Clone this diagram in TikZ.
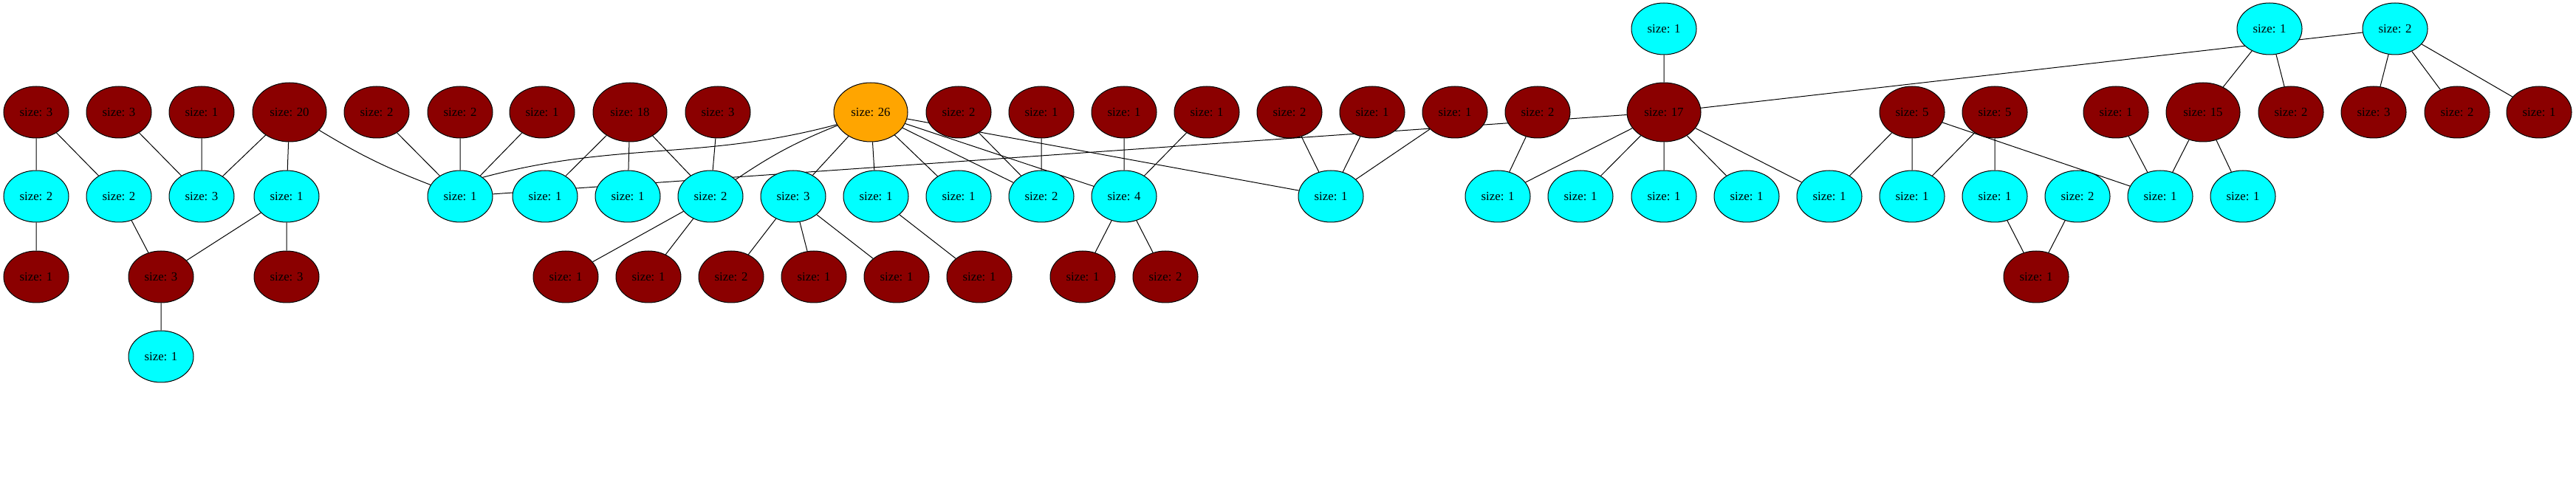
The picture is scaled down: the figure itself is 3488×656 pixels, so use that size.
\documentclass[tikz,border=0pt]{standalone}
\usepackage{fontspec}
\setmainfont{Liberation Serif}
\usepackage{tikz}
\usetikzlibrary{shapes.geometric,backgrounds}
\definecolor{compRed}{HTML}{8B0000}
\definecolor{compCyan}{HTML}{00FFFF}
\definecolor{compOrange}{HTML}{FFA500}

\begin{document}
\begin{tikzpicture}[x=1pt, y=1pt,
  every node/.style={font=\fontsize{16.8}{20}\selectfont},
  comp/.style={ellipse, draw=black, line width=1pt, inner sep=0pt,
             minimum width=88pt, minimum height=70pt},
  redcomp/.style={comp, fill=compRed},
  cyancomp/.style={comp, fill=compCyan},
  bigcomp/.style={minimum width=100pt, minimum height=80pt},
  link/.style={line width=1pt},
]
\useasboundingbox (0,0) rectangle (3488,656);

% Top row
\node[cyancomp] (t1) at (2253, 617) {size: 1};
\node[cyancomp] (t2) at (3073, 617) {size: 1};
\node[cyancomp] (t3) at (3243, 617) {size: 2};

% Second row
\node[redcomp] (r1) at (49, 504) {size: 3};
\node[redcomp] (r2) at (161, 504) {size: 3};
\node[redcomp] (r3) at (273, 504) {size: 1};
\node[redcomp, bigcomp] (r4) at (392, 504) {size: 20};
\node[redcomp] (r5) at (510, 504) {size: 2};
\node[redcomp] (r6) at (623, 504) {size: 2};
\node[redcomp] (r7) at (734, 504) {size: 1};
\node[redcomp, bigcomp] (r8) at (853, 504) {size: 18};
\node[redcomp] (r9) at (972, 504) {size: 3};
\node[comp, bigcomp, fill=compOrange] (r10) at (1179, 504) {size: 26};
\node[redcomp] (r11) at (1298, 504) {size: 2};
\node[redcomp] (r12) at (1410, 504) {size: 1};
\node[redcomp] (r13) at (1522, 504) {size: 1};
\node[redcomp] (r14) at (1634, 504) {size: 1};
\node[redcomp] (r15) at (1746, 504) {size: 2};
\node[redcomp] (r16) at (1858, 504) {size: 1};
\node[redcomp] (r17) at (1970, 504) {size: 1};
\node[redcomp] (r18) at (2082, 504) {size: 2};
\node[redcomp, bigcomp] (r19) at (2253, 504) {size: 17};
\node[redcomp] (r20) at (2589, 504) {size: 5};
\node[redcomp] (r21) at (2701, 504) {size: 5};
\node[redcomp] (r22) at (2865, 504) {size: 1};
\node[redcomp, bigcomp] (r23) at (2983, 504) {size: 15};
\node[redcomp] (r24) at (3102, 504) {size: 2};
\node[redcomp] (r25) at (3214, 504) {size: 3};
\node[redcomp] (r26) at (3327, 504) {size: 2};
\node[redcomp] (r27) at (3438, 504) {size: 1};

% Third row
\node[cyancomp] (c1) at (49, 390) {size: 2};
\node[cyancomp] (c2) at (161, 390) {size: 2};
\node[cyancomp] (c3) at (273, 390) {size: 3};
\node[cyancomp] (c4) at (388, 390) {size: 1};
\node[cyancomp] (c5) at (623, 390) {size: 1};
\node[cyancomp] (c6) at (738, 390) {size: 1};
\node[cyancomp] (c7) at (850, 390) {size: 1};
\node[cyancomp] (c8) at (962, 390) {size: 2};
\node[cyancomp] (c9) at (1074, 390) {size: 3};
\node[cyancomp] (c10) at (1186, 390) {size: 1};
\node[cyancomp] (c11) at (1298, 390) {size: 1};
\node[cyancomp] (c12) at (1410, 390) {size: 2};
\node[cyancomp] (c13) at (1522, 390) {size: 4};
\node[cyancomp] (c14) at (1802, 390) {size: 1};
\node[cyancomp] (c15) at (2028, 390) {size: 1};
\node[cyancomp] (c16) at (2140, 390) {size: 1};
\node[cyancomp] (c17) at (2253, 390) {size: 1};
\node[cyancomp] (c18) at (2365, 390) {size: 1};
\node[cyancomp] (c19) at (2477, 390) {size: 1};
\node[cyancomp] (c20) at (2589, 390) {size: 1};
\node[cyancomp] (c21) at (2701, 390) {size: 1};
\node[cyancomp] (c22) at (2813, 390) {size: 2};
\node[cyancomp] (c23) at (2925, 390) {size: 1};
\node[cyancomp] (c24) at (3037, 390) {size: 1};

% Fourth row
\node[redcomp] (d1) at (49, 281) {size: 1};
\node[redcomp] (d2) at (218, 281) {size: 3};
\node[redcomp] (d3) at (388, 281) {size: 3};
\node[redcomp] (d4) at (766, 281) {size: 1};
\node[redcomp] (d5) at (878, 281) {size: 1};
\node[redcomp] (d6) at (990, 281) {size: 2};
\node[redcomp] (d7) at (1102, 281) {size: 1};
\node[redcomp] (d8) at (1214, 281) {size: 1};
\node[redcomp] (d9) at (1326, 281) {size: 1};
\node[redcomp] (d10) at (1466, 281) {size: 1};
\node[redcomp] (d11) at (1578, 281) {size: 2};
\node[redcomp] (d12) at (2757, 281) {size: 1};

% Bottom row
\node[cyancomp] (e1) at (218, 173) {size: 1};

% Links, behind the nodes
\begin{scope}[on background layer]
\draw[link] (r1) -- (c1) (r1) -- (c2) (r2) -- (c3) (r3) -- (c3);
\draw[link] (r4) -- (c3) (r4) -- (c4);
\draw[link] (r4) to[bend right=5] (c5);
\draw[link] (c1) -- (d1) (c2) -- (d2) (c4) -- (d2) (c4) -- (d3) (d2) -- (e1);
\draw[link] (r5) -- (c5) (r6) -- (c5) (r7) -- (c5);
\draw[link] (c5.40) to[out=15, in=195] (r10.200);
\draw[link] (c5) -- (r19);
\draw[link] (r8) -- (c6) (r8) -- (c7) (r8) -- (c8) (r9) -- (c8);
\draw[link] (r10) to[bend right=6] (c8);
\draw[link] (r10) -- (c9) (r10) -- (c10) (r10) -- (c11) (r10) -- (c12)
  (r10) -- (c13) (r10) -- (c14);
\draw[link] (c8) -- (d4) (c8) -- (d5) (c9) -- (d6) (c9) -- (d7) (c9) -- (d8)
  (c10) -- (d9);
\draw[link] (r11) -- (c12) (r12) -- (c12) (r13) -- (c13) (r14) -- (c13)
  (c13) -- (d10) (c13) -- (d11);
\draw[link] (r15) -- (c14) (r16) -- (c14) (r17) -- (c14) (r18) -- (c15);
\draw[link] (r19) -- (c15) (r19) -- (c16) (r19) -- (c17) (r19) -- (c18)
  (r19) -- (c19) (r19) -- (t1) (r19) -- (t3);
\draw[link] (r20) -- (c19) (r20) -- (c20) (r20) -- (c23) (r21) -- (c20)
  (r21) -- (c21) (c21) -- (d12) (c22) -- (d12);
\draw[link] (r22) -- (c23) (r23) -- (c23) (r23) -- (c24) (r23) -- (t2)
  (t2) -- (r24);
\draw[link] (t3) -- (r25) (t3) -- (r26) (t3) -- (r27);
\end{scope}

\end{tikzpicture}
\end{document}
